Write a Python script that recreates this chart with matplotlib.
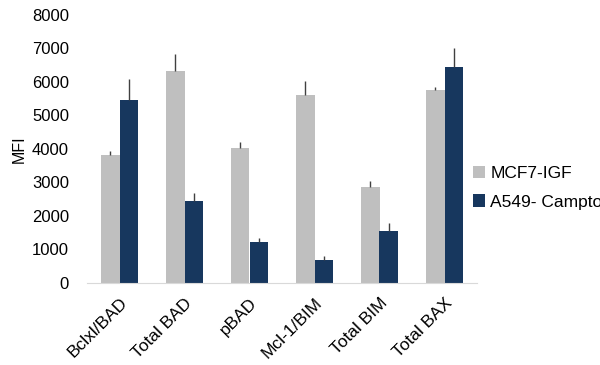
import matplotlib.pyplot as plt
import numpy as np

plt.rcParams['font.family'] = ['Liberation Sans', 'DejaVu Sans']

categories = ['Bclxl/BAD', 'Total BAD', 'pBAD', 'Mcl-1/BIM', 'Total BIM', 'Total BAX']
mcf7 = [3830, 6320, 4030, 5625, 2850, 5760]
mcf7_err = [110, 500, 190, 395, 185, 90]
a549 = [5475, 2440, 1225, 680, 1535, 6450]
a549_err = [625, 230, 110, 125, 240, 565]
series_names = ['MCF7-IGF', 'A549- Camptothecin']

fig = plt.figure(figsize=(6, 3.65), dpi=100)
ax = fig.add_axes([0.145, 0.225, 0.65, 0.734])

x = np.arange(len(categories))
w = 0.29
ax.bar(x - w / 2, mcf7, w, color='#BFBFBF', label=series_names[0])
ax.bar(x + w / 2, a549, w, color='#17375E', label=series_names[1])
ax.errorbar(x - w / 2, mcf7, yerr=[np.zeros(len(x)), mcf7_err], fmt='none',
            ecolor='#404040', elinewidth=1, capsize=0)
ax.errorbar(x + w / 2, a549, yerr=[np.zeros(len(x)), a549_err], fmt='none',
            ecolor='#404040', elinewidth=1, capsize=0)

ax.set_xlim(-0.5, len(categories) - 0.5)
ax.set_ylim(0, 8000)
ax.set_yticks(range(0, 8001, 1000))
ax.set_xticks(x)
ax.set_xticklabels(categories, rotation=45, ha='right', rotation_mode='anchor', fontsize=12.5)
ax.tick_params(axis='y', length=0, labelsize=12, pad=13)
ax.tick_params(axis='x', length=0, pad=9)
for s in ['top', 'right', 'left']:
    ax.spines[s].set_visible(False)
ax.spines['bottom'].set_color('#D9D9D9')
ax.set_ylabel('MFI', fontsize=11.5, labelpad=4)

fig.legend(loc='center left', bbox_to_anchor=(0.762, 0.485), frameon=False,
           fontsize=12.5, handlelength=0.7, handleheight=0.7, handletextpad=0.3,
           labelspacing=0.75)

fig.savefig('out.png', dpi=100)
